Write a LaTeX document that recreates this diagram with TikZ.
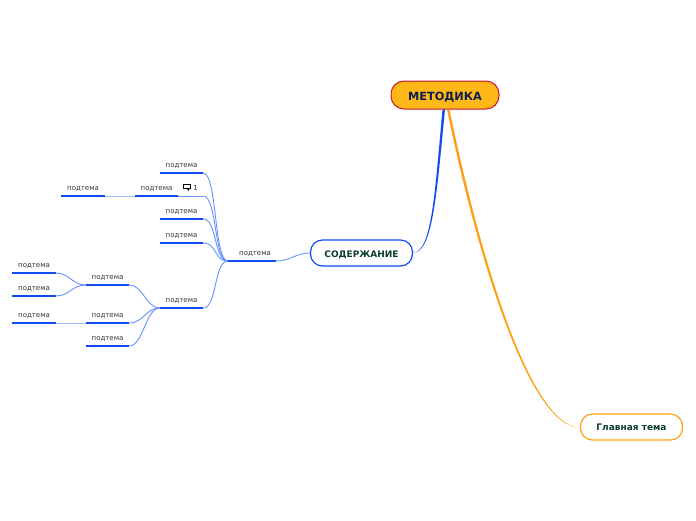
\documentclass[tikz,border=0pt]{standalone}
\usepackage{fontspec}
\setmainfont{DejaVu Sans}
\usetikzlibrary{calc}
\definecolor{mapblue}  {RGB}{ 15, 75,240}
\definecolor{linkblue} {RGB}{105,145,255}
\definecolor{paleblue} {RGB}{165,190,255}
\definecolor{maporange}{RGB}{255,160, 20}
\definecolor{rootfill} {RGB}{255,184, 24}
\definecolor{rootred}  {RGB}{200, 20, 50}
\definecolor{rootink}  {RGB}{ 10, 30, 80}
\definecolor{topicink} {RGB}{ 10, 60, 45}
\definecolor{labelink} {RGB}{ 50, 50, 50}
\newcommand{\branch}[2]{\draw[thinlink] (#1) .. controls +(14,0) and ($(#2)+(-14,0)$) .. (#2);}
\tikzset{
  subtopic/.style={anchor=south, inner sep=0pt, minimum width=43pt, minimum height=14pt,
                   font=\fontsize{7}{8}\selectfont, text=labelink},
  bar/.style={mapblue, line width=1.8pt},
  thinlink/.style={linkblue, line width=0.9pt},
  flatlink/.style={paleblue, line width=1pt},
  topicbox/.style={draw, line width=1.2pt, rounded corners=12pt, fill=white, inner sep=0pt,
                   minimum width=102pt, minimum height=26pt, text=topicink,
                   font=\fontsize{9}{10}\bfseries\selectfont}
}
\begin{document}
\begin{tikzpicture}[x=1pt, y=-1pt]
\useasboundingbox (0,0) rectangle (696,520);

\node[draw=rootred, line width=1pt, rounded corners=13pt, fill=rootfill, inner sep=0pt,
      minimum width=108pt, minimum height=28pt, text=rootink, text height=10.3pt, text depth=0pt,
      font=\fontsize{11.3}{13}\bfseries\selectfont] (root) at (445,95) {МЕТОДИКА};
\node[topicbox, draw=mapblue, text height=8.6pt, text depth=0pt] (content) at (361.5,253) {СОДЕРЖАНИЕ};
\node[topicbox, draw=maporange] (main) at (631.5,427) {Главная тема};

% subtopics, each one sits on its bar
\foreach \name/\x/\y in {B/181.5/308, C1/181.5/173, C2/156.5/196, C3/181.5/219, C4/181.5/243,
                         D/83/196, E1/107.5/285, E2/107.5/323, E3/107.5/346,
                         F1/34/273, F2/34/296, F3/34/323} {
  \node[subtopic] (\name) at (\x,\y) {подтема};
  \draw[bar] (\name.south west) -- (\name.south east);
}
\node[subtopic, minimum width=48pt, text width=48pt, align=center] (A) at (252,261) {\hspace*{6pt}подтема};
\draw[bar] (A.south west) -- (A.south east);

\node[inner sep=0pt, font=\fontsize{7}{8}\selectfont, text=labelink] (count) at (195.5,187.5) {1};
\node[draw=black, line width=0.9pt, inner sep=0pt, minimum width=7pt, minimum height=4.5pt] (note) at (187,186.5) {};
\fill[black] (note.south) -- ++(2,0) -- ++(0,2) -- cycle;

% tapered main branches
\fill[mapblue] ($(root.south)+(-2.5,0)$) .. controls (435,190) and (432,252.5) .. ($(content.east)+(0,-0.5)$)
  .. controls (433,253.5) and (437,190) .. ($(root.south)+(0,0)$) -- cycle;
\fill[maporange] ($(root.south)+(2,0)$) .. controls (478,260) and (529.5,427.7) .. ($(main.west)+(0,0.7)$)
  .. controls (531,426.3) and (480.5,260) .. ($(root.south)+(4.5,0)$) -- cycle;

\coordinate (C2end) at (C1.south east |- C2.south);
\draw[thinlink] (C2.south east) -- (C2end);

\branch{A.south east}{content.west}
\branch{C1.south east}{A.south west}
\branch{C2end}{A.south west}
\branch{C3.south east}{A.south west}
\branch{C4.south east}{A.south west}
\branch{B.south east}{A.south west}
\branch{E1.south east}{B.south west}
\branch{E2.south east}{B.south west}
\branch{E3.south east}{B.south west}
\branch{F1.south east}{E1.south west}
\branch{F2.south east}{E1.south west}
\draw[flatlink] (D.south east) -- (C2.south west);
\draw[flatlink] (F3.south east) -- (E2.south west);

\end{tikzpicture}
\end{document}
